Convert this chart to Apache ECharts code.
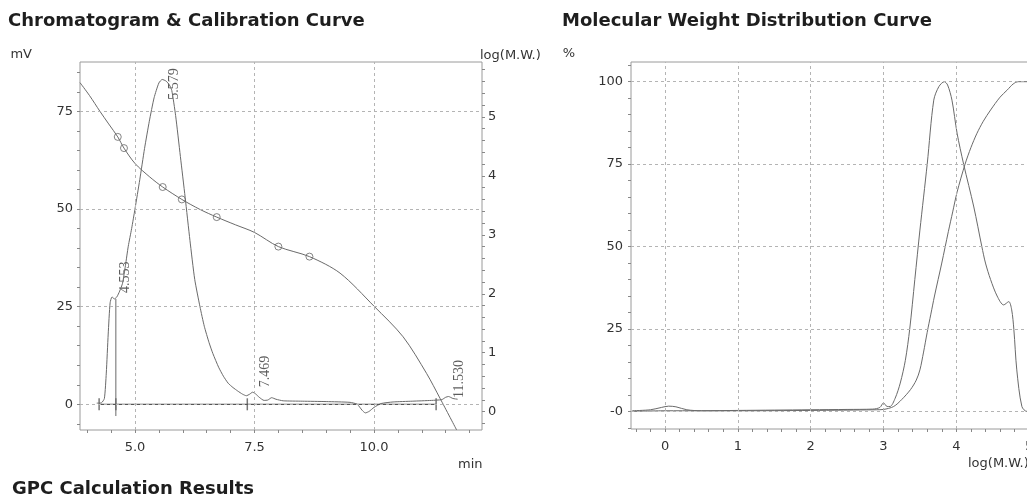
<!DOCTYPE html>
<html lang="en">
<head>
    <meta charset="UTF-8">
    <title>GPC Report</title>
    <script src="https://cdn.jsdelivr.net/npm/echarts@6.0.0/dist/echarts.min.js"></script>
    <style>
        html, body { margin: 0; padding: 0; background: #fff; overflow: hidden; }
        /* wider than the window: the right plot runs off the page like the scan */
        #chart { width: 1110px; height: 501px; }
    </style>
</head>
<body>
    <div id="chart"></div>

    <script>
        // chromatogram (min, mV)
        var chromatogram = [
            [4.20, 0.3], [4.30, 0.4], [4.36, 1.5], [4.40, 8], [4.44, 18], [4.48, 26],
            [4.52, 27.5], [4.57, 27], [4.62, 27.5], [4.68, 29], [4.74, 31], [4.80, 35.5],
            [4.86, 40.5], [4.93, 45], [5.00, 50], [5.10, 57.5], [5.20, 65.5], [5.30, 72.5],
            [5.40, 78.5], [5.50, 82.3], [5.57, 83.2], [5.65, 82.8], [5.72, 81.8], [5.77, 80.4],
            [5.85, 74], [5.95, 63.5], [6.05, 53], [6.15, 42], [6.25, 32], [6.36, 25],
            [6.45, 20], [6.55, 15.8], [6.63, 13], [6.75, 9.5], [6.85, 7.2], [6.95, 5.4],
            [7.05, 4.3], [7.15, 3.4], [7.25, 2.6], [7.33, 2.2], [7.40, 2.6], [7.46, 3.1],
            [7.52, 2.7], [7.60, 1.8], [7.70, 1.0], [7.78, 1.1], [7.86, 1.7], [7.95, 1.3],
            [8.10, 0.9], [8.50, 0.8], [9.00, 0.7], [9.50, 0.5], [9.65, 0], [9.75, -1.5],
            [9.82, -2.2], [9.90, -1.8], [10.00, -0.8], [10.15, 0.2], [10.40, 0.6], [10.80, 0.8],
            [11.20, 1.0], [11.42, 1.2], [11.50, 1.8], [11.56, 2.0], [11.65, 1.5], [11.75, 1.3]
        ];
        var baseline = [[4.25, 0], [11.30, 0]];
        var dropLine = [[4.60, -3], [4.60, 27]];
        var boundaryTimes = [4.25, 4.60, 7.35, 11.30];

        // detected peaks
        var peakTimes = [4.553, 5.579, 7.469, 11.530];
        var peakLabelLevels = [28.5, 78, 4.4, 1.6];

        // calibration curve (min, log M.W.)
        var calibration = [
            [3.85, 5.58], [4.05, 5.36], [4.27, 5.09], [4.45, 4.88], [4.64, 4.66], [4.77, 4.47],
            [5.00, 4.21], [5.31, 3.98], [5.58, 3.81], [5.98, 3.60], [6.36, 3.43], [6.71, 3.30],
            [7.10, 3.17], [7.50, 3.04], [8.00, 2.80], [8.65, 2.63], [9.29, 2.35], [10.00, 1.79],
            [10.61, 1.27], [11.10, 0.65], [11.38, 0.23], [11.73, -0.31]
        ];
        var standards = [
            [4.64, 4.66], [4.77, 4.47], [5.58, 3.81], [5.98, 3.60], [6.71, 3.30], [8.00, 2.80], [8.65, 2.63]
        ];

        // molecular weight distribution (log M.W., %)
        var differential = [
            [-0.45, 0.2], [-0.20, 0.5], [-0.05, 1.2], [0.05, 1.6], [0.15, 1.4], [0.30, 0.5],
            [0.50, 0.2], [1.00, 0.3], [1.50, 0.4], [2.00, 0.5], [2.50, 0.6], [2.85, 0.7],
            [2.95, 1.2], [3.00, 2.6], [3.05, 1.5], [3.09, 1.5], [3.16, 4], [3.23, 8.6],
            [3.30, 15.5], [3.36, 25], [3.43, 40], [3.50, 55], [3.60, 75], [3.69, 94.4],
            [3.76, 98.5], [3.835, 100], [3.88, 99], [3.94, 94.4], [4.01, 84.4], [4.10, 75],
            [4.24, 62], [4.35, 50], [4.40, 45], [4.47, 40], [4.56, 35], [4.65, 32.3],
            [4.72, 33.3], [4.76, 30.8], [4.79, 24.8], [4.83, 12.6], [4.90, 1.5], [4.97, 0],
            [5.20, 0], [6.00, 0]
        ];
        var cumulative = [
            [-0.45, 0], [0.00, 0.2], [1.00, 0.2], [2.00, 0.3], [2.90, 0.5], [3.00, 0.6],
            [3.14, 1.5], [3.25, 3.6], [3.37, 6.6], [3.45, 9.5], [3.50, 12.6], [3.55, 18],
            [3.60, 24], [3.65, 29.5], [3.70, 35], [3.80, 45], [3.89, 54.5], [3.95, 60.5],
            [4.01, 66.5], [4.12, 75], [4.20, 80], [4.28, 84.2], [4.37, 88], [4.47, 91.4],
            [4.60, 95.3], [4.70, 97.5], [4.78, 99.3], [4.85, 100], [5.00, 100], [6.00, 100]
        ];

        // tick labels
        var timeLabels = [5.0, 7.5, 10.0];
        var mvLabels = [0, 25, 50, 75];
        var logLabels = [0, 1, 2, 3, 4, 5];
        var mwLabels = [0, 1, 2, 3, 4, 5];
        var pctLabels = [0, 25, 50, 75, 100];

        function steps(a, b, s) {
            var out = [];
            for (var v = a; v <= b + 1e-9; v += s) out.push(Math.round(v * 100) / 100);
            return out;
        }

        var ink = '#1e1e1e';
        var curve = '#6a6a6a';
        var gridDash = { type: [3, 3], color: '#b4b4b4', width: 1 };
        var font = 'DejaVu Sans, Liberation Sans, sans-serif';
        var labelStyle = { color: '#333', fontSize: 13, fontFamily: font };
        var nameStyle = { color: '#333', fontSize: 13, fontWeight: 'normal', fontFamily: font };
        var titleStyle = { fontSize: 18, fontWeight: 'bold', color: ink, fontFamily: font };
        var tickStyle = { show: true, length: 3, lineStyle: { color: '#888' } };
        var noLine = { show: false, onZero: false };

        function gridLines(xs, ys) {
            return {
                silent: true,
                symbol: 'none',
                animation: false,
                label: { show: false },
                lineStyle: gridDash,
                data: xs.map(function (v) { return { xAxis: v }; })
                    .concat(ys.map(function (v) { return { yAxis: v }; }))
            };
        }

        var myChart = echarts.init(document.getElementById('chart'));
        myChart.setOption({
            animation: false,
            backgroundColor: '#fff',
            title: [
                { text: 'Chromatogram & Calibration Curve', left: 8, top: 12, padding: 0, textStyle: titleStyle },
                { text: 'Molecular Weight Distribution Curve', left: 562, top: 12, padding: 0, textStyle: titleStyle },
                { text: 'GPC Calculation Results', left: 12, top: 480, padding: 0, textStyle: titleStyle },
                // x axis units sit under the right end of each axis
                { text: 'min', left: 458, top: 458, padding: 0, textStyle: nameStyle },
                { text: 'log(M.W.)', left: 968, top: 457, padding: 0, textStyle: nameStyle }
            ],
            grid: [
                { left: 80, top: 62, width: 402, height: 368, show: true, borderColor: '#9a9a9a', borderWidth: 1 },
                { left: 631, top: 62, width: 471, height: 367, show: true, borderColor: '#9a9a9a', borderWidth: 1 }
            ],
            xAxis: [
                {
                    type: 'value', gridIndex: 0, min: 3.85, max: 12.26,
                    axisLine: noLine,
                    axisTick: Object.assign({ customValues: steps(4, 12, 0.5) }, tickStyle),
                    axisLabel: Object.assign({ customValues: timeLabels, margin: 11,
                        formatter: function (v) { return v.toFixed(1); } }, labelStyle),
                    splitLine: { show: false }
                },
                {
                    type: 'value', gridIndex: 1, min: -0.467, max: 6.0,
                    axisLine: noLine,
                    axisTick: Object.assign({ customValues: steps(-0.4, 6, 0.2) }, tickStyle),
                    axisLabel: Object.assign({ customValues: mwLabels, margin: 11 }, labelStyle),
                    splitLine: { show: false }
                }
            ],
            yAxis: [
                {
                    type: 'value', gridIndex: 0, position: 'left', min: -6.58, max: 87.68,
                    name: 'mV', nameLocation: 'end', nameGap: 1,
                    nameTextStyle: Object.assign({ align: 'right', padding: [0, 48, 0, 0] }, nameStyle),
                    axisLine: noLine,
                    axisTick: Object.assign({ customValues: steps(-5, 85, 5) }, tickStyle),
                    axisLabel: Object.assign({ customValues: mvLabels, margin: 7 }, labelStyle),
                    splitLine: { show: false }
                },
                {
                    type: 'value', gridIndex: 0, position: 'right', min: -0.31, max: 5.93,
                    name: 'log(M.W.)', nameLocation: 'end', nameGap: 0,
                    nameTextStyle: Object.assign({ align: 'left', padding: [0, 0, 0, -2] }, nameStyle),
                    axisLine: noLine,
                    axisTick: Object.assign({ customValues: steps(-0.2, 5.8, 0.2) }, tickStyle),
                    axisLabel: Object.assign({ customValues: logLabels, margin: 6 }, labelStyle),
                    splitLine: { show: false }
                },
                {
                    type: 'value', gridIndex: 1, position: 'left', min: -5.33, max: 105.97,
                    name: '%', nameLocation: 'end', nameGap: 2,
                    nameTextStyle: Object.assign({ align: 'right', padding: [0, 56, 0, 0] }, nameStyle),
                    axisLine: noLine,
                    axisTick: Object.assign({ customValues: steps(-5, 105, 5) }, tickStyle),
                    axisLabel: Object.assign({ customValues: pctLabels, margin: 8,
                        formatter: function (v) { return v === 0 ? '-0' : String(v); } }, labelStyle),
                    splitLine: { show: false }
                }
            ],
            series: [
                {
                    name: 'Chromatogram', type: 'line', xAxisIndex: 0, yAxisIndex: 0,
                    data: chromatogram, showSymbol: false, smooth: 0.2,
                    lineStyle: { color: curve, width: 1 },
                    markLine: gridLines(timeLabels, mvLabels)
                },
                {
                    name: 'Baseline', type: 'line', xAxisIndex: 0, yAxisIndex: 0,
                    data: baseline, showSymbol: false,
                    lineStyle: { color: '#555', width: 1.2 }
                },
                {
                    name: 'Drop', type: 'line', xAxisIndex: 0, yAxisIndex: 0,
                    data: dropLine, showSymbol: false,
                    lineStyle: { color: curve, width: 1 }
                },
                {
                    name: 'Boundaries', type: 'scatter', xAxisIndex: 0, yAxisIndex: 0,
                    data: boundaryTimes.map(function (t) { return [t, 0]; }),
                    symbol: 'rect', symbolSize: [1.5, 12],
                    itemStyle: { color: '#555' }
                },
                {
                    name: 'Peaks', type: 'scatter', xAxisIndex: 0, yAxisIndex: 0,
                    data: peakTimes.map(function (t, i) { return [t, peakLabelLevels[i]]; }),
                    symbolSize: 0,
                    label: {
                        show: true, position: 'right', distance: 12, rotate: 90,
                        align: 'left', verticalAlign: 'middle',
                        color: '#333', fontSize: 14, fontFamily: 'Liberation Serif, Times New Roman, serif',
                        formatter: function (p) { return p.value[0].toFixed(3); }
                    }
                },
                {
                    name: 'Calibration', type: 'line', xAxisIndex: 0, yAxisIndex: 1,
                    data: calibration, showSymbol: false, smooth: 0.3,
                    lineStyle: { color: curve, width: 1 }
                },
                {
                    name: 'Standards', type: 'scatter', xAxisIndex: 0, yAxisIndex: 1,
                    data: standards, symbol: 'circle', symbolSize: 7,
                    itemStyle: { color: '#fff', borderColor: '#666', borderWidth: 1 }
                },
                {
                    name: 'Differential', type: 'line', xAxisIndex: 1, yAxisIndex: 2,
                    data: differential, showSymbol: false, smooth: 0.3,
                    lineStyle: { color: curve, width: 1 },
                    markLine: gridLines(mwLabels, pctLabels)
                },
                {
                    name: 'Cumulative', type: 'line', xAxisIndex: 1, yAxisIndex: 2,
                    data: cumulative, showSymbol: false, smooth: 0.3,
                    lineStyle: { color: curve, width: 1 }
                }
            ]
        });
    </script>
</body>
</html>
